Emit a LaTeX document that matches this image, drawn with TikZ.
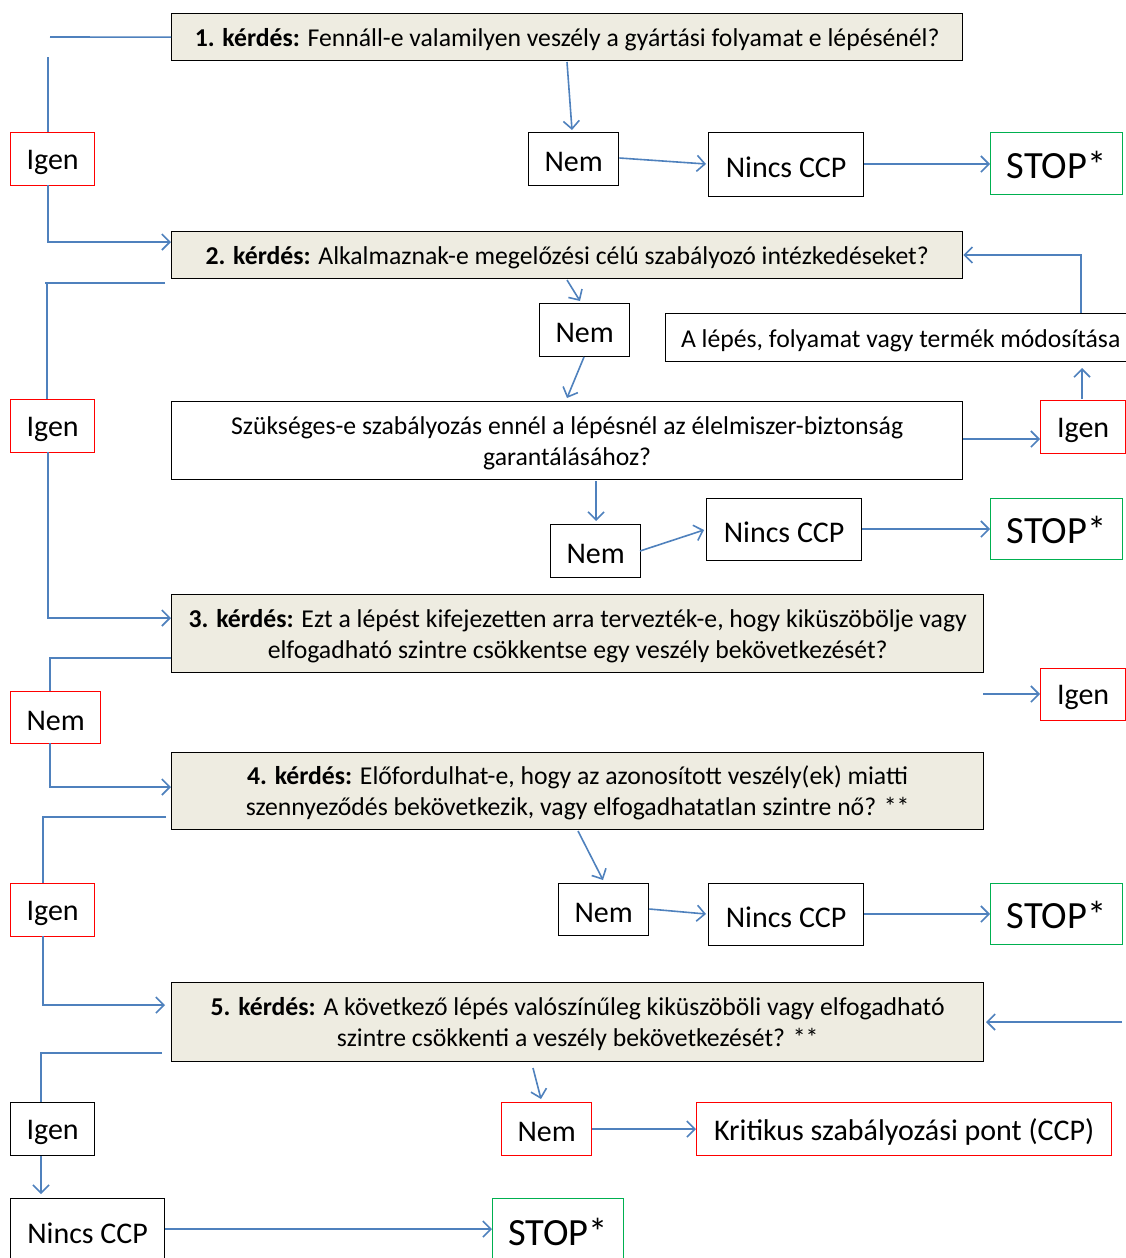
\documentclass[tikz,border=0pt]{standalone}
\usepackage{fontspec}
\setmainfont{Carlito}
\usetikzlibrary{arrows.meta}
\definecolor{lnblue}{HTML}{4F81BD}
\definecolor{qfill}{HTML}{EEECE1}
\definecolor{stopgreen}{HTML}{00B050}
\definecolor{redb}{HTML}{FF0000}
\newcommand\dn[2][3pt]{\raisebox{-#1}[\height][\depth]{#2}}
\newcommand\twol[2]{\dn{\begin{tabular}{@{}c@{}}#1\\#2\end{tabular}}}
\tikzset{
  bx/.style={draw=black, line width=1.3pt, inner sep=0pt, align=center, anchor=north west},
  qbox/.style={bx, fill=qfill, font=\fontsize{25.7}{31}\selectfont},
  wbox/.style={bx, font=\fontsize{25.7}{31}\selectfont},
  small/.style={bx, font=\fontsize{30}{32}\selectfont},
  redbox/.style={draw=redb},
  greenbox/.style={draw=stopgreen, font=\fontsize{38.5}{40}\selectfont},
  ln/.style={draw=lnblue, line width=1.6pt},
  arr/.style={ln, -{Straight Barb[length=8pt,width=16pt,line width=1.6pt]}},
}
\begin{document}
\begin{tikzpicture}[x=1pt,y=-1pt]
\useasboundingbox (0,0) rectangle (1125,1258);
\node[qbox, minimum width=791, minimum height=47] (q1) at (171,13) {\dn{{\bfseries 1. kérdés:} Fennáll-e valamilyen veszély a gyártási folyamat e lépésénél?}};
\node[small, redbox, minimum width=84, minimum height=53] (i1) at (10,132) {\dn{Igen}};
\node[small, minimum width=90, minimum height=53] (n1) at (528,132) {\dn{Nem}};
\node[small, minimum width=155, minimum height=64] (c1) at (708,132) {\dn{Nincs CCP}};
\node[small, greenbox, minimum width=132, minimum height=62] (s1) at (990,132) {\dn[1pt]{STOP*}};

\node[qbox, minimum width=791, minimum height=47] (q2) at (171,231) {\dn{{\bfseries 2. kérdés:} Alkalmaznak-e megelőzési célú szabályozó intézkedéseket?}};
\node[small, redbox, minimum width=84, minimum height=53] (i2) at (10,399) {\dn{Igen}};
\node[small, minimum width=90, minimum height=53] (n2) at (539,303) {\dn{Nem}};
\node[wbox, minimum width=470, minimum height=48] (mod) at (665,313) {\dn{A lépés, folyamat vagy termék módosítása}};
\node[wbox, minimum width=791, minimum height=78] (sz) at (171,401) {\twol{Szükséges-e szabályozás ennél a lépésnél az élelmiszer-biztonság}{garantálásához?}};
\node[small, redbox, minimum width=85, minimum height=53] (i3) at (1040,400) {\dn{Igen}};
\node[small, minimum width=90, minimum height=53] (n3) at (550,524) {\dn{Nem}};
\node[small, minimum width=155, minimum height=62] (c2) at (706,498) {\dn{Nincs CCP}};
\node[small, greenbox, minimum width=132, minimum height=61] (s2) at (990,498) {\dn[1pt]{STOP*}};

\node[qbox, minimum width=812, minimum height=78] (q3) at (171,594) {\twol{{\bfseries 3. kérdés:} Ezt a lépést kifejezetten arra tervezték-e, hogy kiküszöbölje vagy}{elfogadható szintre csökkentse egy veszély bekövetkezését?}};
\node[small, redbox, minimum width=90, minimum height=52] (n4) at (10,691) {\dn{Nem}};
\node[small, redbox, minimum width=85, minimum height=52] (i4) at (1040,668) {\dn{Igen}};

\node[qbox, minimum width=812, minimum height=77] (q4) at (171,752) {\twol{{\bfseries 4. kérdés:} Előfordulhat-e, hogy az azonosított veszély(ek) miatti}{szennyeződés bekövetkezik, vagy elfogadhatatlan szintre nő? **}};
\node[small, redbox, minimum width=84, minimum height=53] (i5) at (10,883) {\dn{Igen}};
\node[small, minimum width=90, minimum height=52] (n5) at (558,883) {\dn{Nem}};
\node[small, minimum width=155, minimum height=62] (c3) at (708,883) {\dn{Nincs CCP}};
\node[small, greenbox, minimum width=132, minimum height=61] (s3) at (990,883) {\dn[1pt]{STOP*}};

\node[qbox, minimum width=812, minimum height=79] (q5) at (171,982) {\twol{{\bfseries 5. kérdés:} A következő lépés valószínűleg kiküszöböli vagy elfogadható}{szintre csökkenti a veszély bekövetkezését? **}};
\node[small, minimum width=84, minimum height=53] (i6) at (10,1102) {\dn{Igen}};
\node[small, redbox, minimum width=90, minimum height=53] (n6) at (501,1102) {\dn{Nem}};
\node[small, redbox, minimum width=415, minimum height=53] (k) at (696,1102) {\dn{Kritikus szabályozási pont (CCP)}};
\node[small, minimum width=154, minimum height=64] (c4) at (10,1198) {\dn{Nincs CCP}};
\node[small, greenbox, minimum width=131, minimum height=64] (s4) at (492,1198) {\dn[1pt]{STOP*}};

% connectors
\coordinate (f1) at (567,62);
\draw[ln] (q1.west) -- (50,37);
\draw[ln] (48,57) -- (48,132);
\draw[arr] (48,185) -- (48,242) -- (q2.west |- 0,242);
\draw[arr] (f1) -- (572,130);
\draw[arr] (n1.east |- 0,158) -- (706,164);
\draw[arr] (c1.east |- 0,164) -- (s1.west |- 0,164);

\draw[ln] (165,283) -- (45,283);
\draw[ln] (47,283) -- (47,399);
\draw[arr] (48,452) -- (48,618) -- (q3.west |- 0,618);
\draw[arr] (567,280) -- (580,301);
\draw[arr] (584,357) -- (567,398);
\draw[arr] (1081,313) -- (1081,255) -- (q2.east |- 0,255);
\draw[arr] (sz.east |- 0,439) -- (i3.west |- 0,439);
\draw[arr] (1082,399) -- (1082,368);
\draw[arr] (596,481) -- (596,521);
\draw[arr] (640,551) -- (704,530);
\draw[arr] (c2.east |- 0,529) -- (s2.west |- 0,529);

\draw[ln] (q3.west |- 0,658) -- (50,658) -- (50,691);
\draw[arr] (50,743) -- (50,787) -- (q4.west |- 0,787);
\coordinate (f3) at (983,694);
\draw[arr] (f3) -- (i4.west |- 0,694);

\draw[ln] (166,817) -- (43,817) -- (43,883);
\draw[arr] (43,936) -- (43,1005) -- (165,1005);
\draw[arr] (578,831) -- (603,880);
\draw[arr] (n5.east |- 0,909) -- (706,914);
\draw[arr] (c3.east |- 0,914) -- (s3.west |- 0,914);

\coordinate (f5) at (1122,1022);
\draw[arr] (f5) -- (986,1022);
\draw[ln] (162,1053) -- (41,1053) -- (41,1102);
\draw[arr] (41,1156) -- (41,1194);
\draw[arr] (c4.east |- 0,1229) -- (s4.west |- 0,1229);
\draw[arr] (533,1068) -- (541,1099);
\draw[arr] (n6.east |- 0,1129) -- (k.west |- 0,1129);
\end{tikzpicture}
\end{document}
